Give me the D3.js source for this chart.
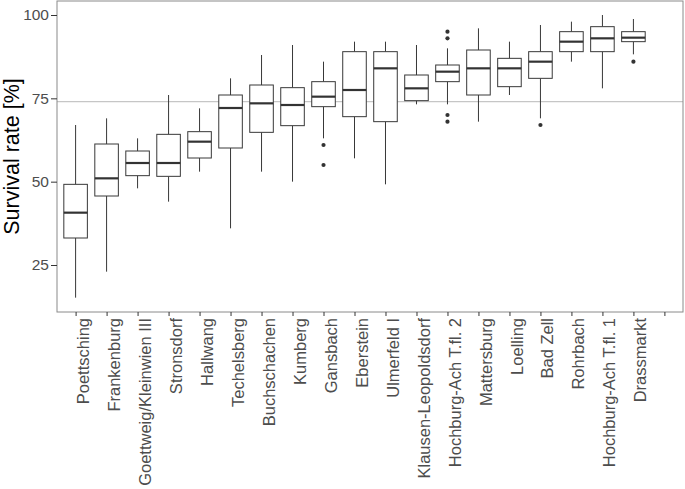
<!DOCTYPE html>
<html>
<head>
<meta charset="utf-8">
<script src="https://cdn.jsdelivr.net/npm/d3@7"></script>
<style>
  body { margin: 0; background: #fff; }
  svg { font-family: "Liberation Sans", Arial, sans-serif; }
</style>
</head>
<body>
<div id="chart"></div>
<script>
// survival rate per site, sorted by median; last slot is an empty category
var categories = ["Poettsching", "Frankenburg", "Goettweig/Kleinwien III", "Stronsdorf", "Hallwang",
  "Techelsberg", "Buchschachen", "Kumberg", "Gansbach", "Eberstein", "Ulmerfeld I",
  "Klausen-Leopoldsdorf", "Hochburg-Ach T.fl. 2", "Mattersburg", "Loelling", "Bad Zell",
  "Rohrbach", "Hochburg-Ach T.fl. 1", "Drassmarkt", ""];
var whiskerLow  = [15.2, 23, 48, 44, 53, 36, 53, 50, 63, 57, 49.2, 73.2, 73.2, 68, 76, 69, 86, 78, 88.2];
var q1          = [33.1, 45.7, 51.8, 51.6, 57.1, 60.1, 64.8, 66.8, 72.5, 69.5, 68, 74.3, 80, 76, 78.5, 81, 89, 89, 92];
var medians     = [40.7, 51, 55.6, 55.6, 62, 72.1, 73.5, 73, 75.5, 77.5, 84, 78, 83, 84, 84, 86, 92, 93, 93.2];
var q3          = [49.2, 61.3, 59.2, 64.2, 65, 76, 79, 78.2, 80, 89, 89, 82, 85, 89.5, 87, 89, 95, 96.5, 95];
var whiskerHigh = [67, 69, 63, 76, 72, 81, 88, 91, 86, 92, 92, 91, 90, 96, 92, 97, 98, 100, 98.8];
var outliers = [
  {site: "Gansbach", value: 61}, {site: "Gansbach", value: 55},
  {site: "Hochburg-Ach T.fl. 2", value: 95}, {site: "Hochburg-Ach T.fl. 2", value: 93},
  {site: "Hochburg-Ach T.fl. 2", value: 70}, {site: "Hochburg-Ach T.fl. 2", value: 68},
  {site: "Bad Zell", value: 67},
  {site: "Drassmarkt", value: 86}
];
var yTicks = [25, 50, 75, 100];
var referenceLine = 74;

var width = 685, height = 489;
var panelLeft = 57, panelRight = 683, panelTop = 1, panelBottom = 312;

var svg = d3.select("#chart").append("svg")
  .attr("width", width)
  .attr("height", height);

var x = d3.scalePoint().domain(categories).range([panelLeft, panelRight]).padding(0.6);
var y = d3.scaleLinear().domain([10.9, 104.2]).range([panelBottom, panelTop]);
var boxW = x.step() * 0.76;

var boxes = categories.slice(0, whiskerLow.length).map(function(c, i) {
  return {site: c, lo: whiskerLow[i], q1: q1[i], med: medians[i], q3: q3[i], hi: whiskerHigh[i]};
});

//reference line
svg.append("line")
  .attr("x1", panelLeft).attr("x2", panelRight)
  .attr("y1", y(referenceLine)).attr("y2", y(referenceLine))
  .attr("stroke", "#c6c6c6").attr("stroke-width", 1.2);

var g = svg.append("g").attr("id", "boxGroup");
var box = g.selectAll("g.box").data(boxes).enter().append("g").attr("class", "box");

box.append("line")
  .attr("x1", function(d) { return x(d.site); }).attr("x2", function(d) { return x(d.site); })
  .attr("y1", function(d) { return y(d.hi); }).attr("y2", function(d) { return y(d.q3); })
  .attr("stroke", "#383838").attr("stroke-width", 1);
box.append("line")
  .attr("x1", function(d) { return x(d.site); }).attr("x2", function(d) { return x(d.site); })
  .attr("y1", function(d) { return y(d.q1); }).attr("y2", function(d) { return y(d.lo); })
  .attr("stroke", "#383838").attr("stroke-width", 1);
box.append("rect")
  .attr("x", function(d) { return x(d.site) - boxW / 2; })
  .attr("width", boxW)
  .attr("y", function(d) { return y(d.q3); })
  .attr("height", function(d) { return y(d.q1) - y(d.q3); })
  .attr("fill", "#fff").attr("stroke", "#383838").attr("stroke-width", 1);
box.append("line")
  .attr("x1", function(d) { return x(d.site) - boxW / 2; })
  .attr("x2", function(d) { return x(d.site) + boxW / 2; })
  .attr("y1", function(d) { return y(d.med); }).attr("y2", function(d) { return y(d.med); })
  .attr("stroke", "#333").attr("stroke-width", 2.2);

g.selectAll("circle").data(outliers).enter().append("circle")
  .attr("cx", function(d) { return x(d.site); })
  .attr("cy", function(d) { return y(d.value); })
  .attr("r", 2.1)
  .attr("fill", "#333");

//panel border
svg.append("rect")
  .attr("x", panelLeft).attr("y", panelTop)
  .attr("width", panelRight - panelLeft).attr("height", panelBottom - panelTop)
  .attr("fill", "none").attr("stroke", "#8a8a8a").attr("stroke-width", 1);

//axes
var yAxis = svg.append("g")
  .attr("transform", "translate(" + panelLeft + ",0)")
  .call(d3.axisLeft(y).tickValues(yTicks).tickSize(6).tickPadding(2));
yAxis.select(".domain").remove();
yAxis.selectAll(".tick line").attr("stroke", "#333");
yAxis.selectAll(".tick text").attr("fill", "#4d4d4d").style("font-size", "15.5px")
  .style("font-family", "Liberation Sans, Arial, sans-serif");

var xAxis = svg.append("g")
  .attr("transform", "translate(0," + panelBottom + ")")
  .call(d3.axisBottom(x).tickSize(4).tickSizeOuter(0));
xAxis.select(".domain").remove();
xAxis.selectAll(".tick line").attr("stroke", "#333");
xAxis.selectAll(".tick text")
  .attr("fill", "#4d4d4d")
  .style("font-size", "16.5px")
  .style("font-family", "Liberation Sans, Arial, sans-serif")
  .attr("text-anchor", "end")
  .attr("transform", "rotate(-90)")
  .attr("x", -6).attr("y", 0).attr("dy", "0.76em");

svg.append("text")
  .attr("transform", "translate(19," + ((panelTop + panelBottom) / 2) + ") rotate(-90)")
  .attr("text-anchor", "middle")
  .style("font-size", "21.5px")
  .attr("fill", "#000")
  .text("Survival rate [%]");
</script>
</body>
</html>
